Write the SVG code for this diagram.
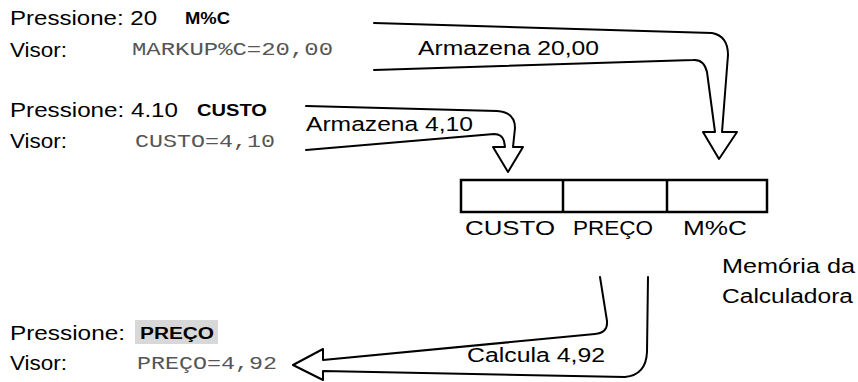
<svg xmlns="http://www.w3.org/2000/svg" width="858" height="382" viewBox="0 0 858 382">
<style>
.t{font-family:"Liberation Sans",Arial,sans-serif;font-size:20px;fill:#000}
.k{font-family:"Liberation Sans",Arial,sans-serif;font-size:16px;font-weight:bold;fill:#000}
.d{font-family:"Liberation Mono","DejaVu Sans Mono",monospace;font-size:18px;fill:#555}
.ln{fill:none;stroke:#000;stroke-width:2;stroke-linejoin:round;stroke-linecap:round}
.bx{fill:#fff;stroke:#000;stroke-width:2.5}
</style>
<rect width="858" height="382" fill="#fff"/>
<g id="step1">
<text class="t" x="10" y="25" textLength="147" lengthAdjust="spacingAndGlyphs">Pressione: 20</text>
<text class="k" x="185" y="24" textLength="45" lengthAdjust="spacingAndGlyphs">M%C</text>
<text class="t" x="10" y="57" textLength="57" lengthAdjust="spacingAndGlyphs">Visor:</text>
<text class="d" x="132" y="55" textLength="201" lengthAdjust="spacingAndGlyphs">MARKUP%C=20,00</text>
</g>
<g id="step2">
<text class="t" x="10" y="117" textLength="168" lengthAdjust="spacingAndGlyphs">Pressione: 4.10</text>
<text class="k" x="197" y="116" textLength="70" lengthAdjust="spacingAndGlyphs">CUSTO</text>
<text class="t" x="10" y="148" textLength="57" lengthAdjust="spacingAndGlyphs">Visor:</text>
<text class="d" x="135" y="147" textLength="140" lengthAdjust="spacingAndGlyphs">CUSTO=4,10</text>
</g>
<g id="step3">
<text class="t" x="10" y="340" textLength="115" lengthAdjust="spacingAndGlyphs">Pressione:</text>
<rect x="135" y="320" width="83" height="24" fill="#d8d8d8"/>
<text class="k" x="140" y="339" textLength="74" lengthAdjust="spacingAndGlyphs">PREÇO</text>
<text class="t" x="10" y="370" textLength="57" lengthAdjust="spacingAndGlyphs">Visor:</text>
<text class="d" x="137" y="369" textLength="140" lengthAdjust="spacingAndGlyphs">PREÇO=4,92</text>
</g>
<g id="memory">
<rect class="bx" x="461" y="180" width="306" height="32"/>
<line class="bx" x1="563" y1="180" x2="563" y2="212"/>
<line class="bx" x1="667" y1="180" x2="667" y2="212"/>
<text class="t" x="465" y="235" textLength="90" lengthAdjust="spacingAndGlyphs">CUSTO</text>
<text class="t" x="573" y="235" textLength="80" lengthAdjust="spacingAndGlyphs">PREÇO</text>
<text class="t" x="683" y="235" textLength="64" lengthAdjust="spacingAndGlyphs">M%C</text>
<text class="t" x="722" y="273" textLength="133" lengthAdjust="spacingAndGlyphs">Memória da</text>
<text class="t" x="722" y="303" textLength="131" lengthAdjust="spacingAndGlyphs">Calculadora</text>
</g>
<g id="connectors">
<path class="ln" d="M374,23 L712,33 Q728,36 728,55 L722,132 L737,132 L719,159 L703,132 L715,132 L707,72 Q704,59 693,60 L374,70"/>
<text class="t" x="418" y="55" textLength="181" lengthAdjust="spacingAndGlyphs">Armazena 20,00</text>
<path class="ln" d="M306,106 L497,111 Q515,112 515,128 L513,147 L523,147 L508,172 L493,147 L505,147 L504,141 Q502,134 494,134 L306,150"/>
<text class="t" x="306" y="131" textLength="167" lengthAdjust="spacingAndGlyphs">Armazena 4,10</text>
<path class="ln" d="M600,277 L607,321 Q608,333 595,334 L323,360 L323,349 L293,365 L323,380 L323,371 L625,377 Q646,375 647,352 L648,277"/>
<text class="t" x="467" y="362" textLength="138" lengthAdjust="spacingAndGlyphs">Calcula 4,92</text>
</g>
</svg>
